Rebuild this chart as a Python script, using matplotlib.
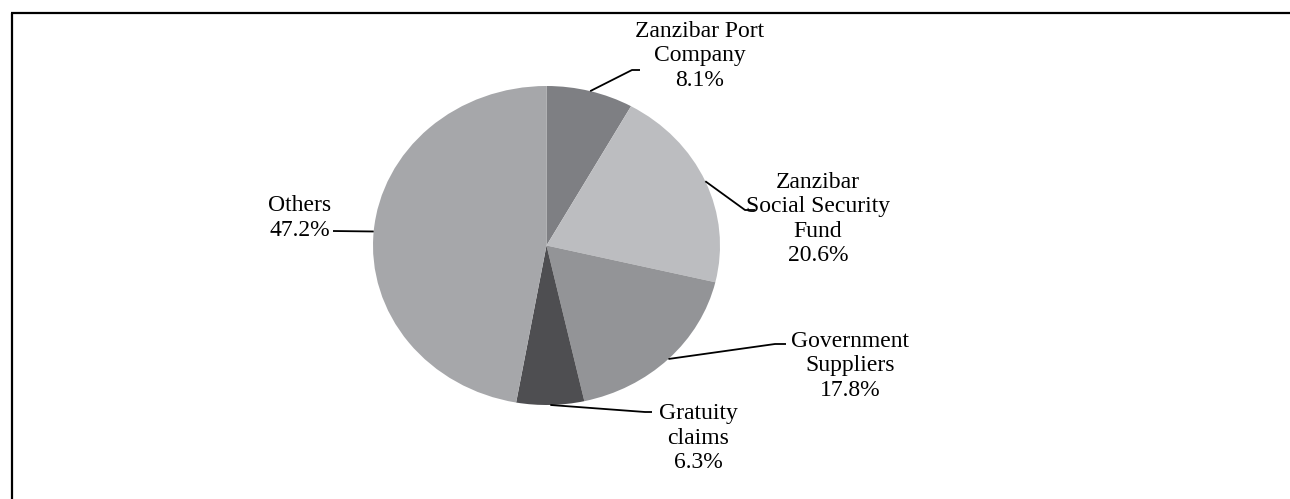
import matplotlib
matplotlib.use('Agg')
import matplotlib.pyplot as plt
import numpy as np
from matplotlib.lines import Line2D

categories = ["Zanzibar Port\nCompany", "Zanzibar\nSocial Security\nFund",
              "Government\nSuppliers", "Gratuity\nclaims", "Others"]
shares = [8.1, 20.6, 17.8, 6.3, 47.2]
colors = ["#7e7f83", "#bcbdc0", "#939497", "#4e4e51", "#a6a7aa"]

# label layout (pixel positions, from top-left) and leader elbows
label_pos = [(700, 56, 'center'), (818, 219, 'center'), (850, 366, 'center'),
             (698, 438, 'center'), (300, 218, 'center')]
leader_elbows = [[(632, 70), (640, 70)],
                 [(745, 210), (755, 210)],
                 [(775, 344), (786, 344)],
                 [(645, 412), (652, 412)],
                 [(333, 231)]]

W, H = 1290, 499
fig = plt.figure(figsize=(W / 100, H / 100), dpi=100)
ax = fig.add_axes([0, 0, 1, 1])
cx, cy = 546.5, 245.5
rx, ry = 173.5, 159.5

wedges, _ = ax.pie(shares, colors=colors, startangle=90, counterclock=False,
                   radius=1, wedgeprops=dict(linewidth=0))
ax.set_aspect('auto')
ax.set_xlim(-cx / rx, (W - cx) / rx)
ax.set_ylim(-(H - cy) / ry, cy / ry)
ax.axis('off')


def px(x, y):
    return ((x - cx) / rx, (cy - y) / ry)


for w, cat, val, (tx, ty, ha), elb in zip(wedges, categories, shares, label_pos, leader_elbows):
    ang = np.deg2rad((w.theta1 + w.theta2) / 2)
    pts = [(np.cos(ang), np.sin(ang))] + [px(*p) for p in elb]
    xs, ys = zip(*pts)
    ax.plot(xs, ys, color='black', lw=1.3, solid_capstyle='butt')
    ax.text(*px(tx, ty), f"{cat}\n{val:.1f}%", ha=ha, va='center',
            multialignment='center', fontsize=17, family='Liberation Serif',
            linespacing=1.22, color='black')

fig.add_artist(Line2D([10.7 / W, 1], [1 - 12.5 / H] * 2, transform=fig.transFigure,
                      color='black', lw=1.6, solid_capstyle='butt'))
fig.add_artist(Line2D([11.5 / W] * 2, [0, 1 - 12.5 / H], transform=fig.transFigure,
                      color='black', lw=1.6, solid_capstyle='butt'))

fig.savefig('out.png', dpi=100, facecolor='white')
